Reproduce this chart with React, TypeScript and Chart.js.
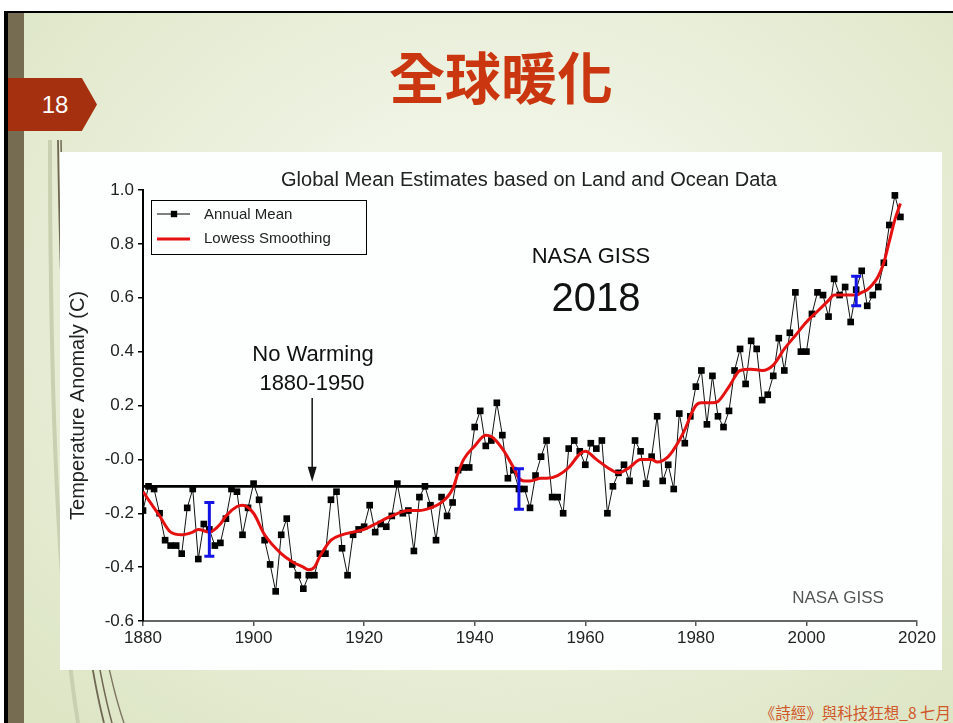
import React, { useEffect, useRef } from 'react';
import { Chart, registerables } from 'chart.js';

Chart.register(...registerables);

// ---------------- data ----------------
const firstYear = 1880;
const annualMean: number[] = [
  -0.19, -0.10, -0.11, -0.20, -0.30, -0.32, -0.32, -0.35, -0.18, -0.11, // 1880s
  -0.37, -0.24, -0.26, -0.32, -0.31, -0.22, -0.11, -0.12, -0.28, -0.18, // 1890s
  -0.09, -0.15, -0.30, -0.39, -0.49, -0.28, -0.22, -0.39, -0.43, -0.48, // 1900s
  -0.43, -0.43, -0.35, -0.35, -0.15, -0.12, -0.33, -0.43, -0.28, -0.26, // 1910s
  -0.25, -0.17, -0.27, -0.24, -0.25, -0.21, -0.09, -0.20, -0.19, -0.34, // 1920s
  -0.14, -0.10, -0.17, -0.30, -0.14, -0.21, -0.16, -0.04, -0.03, -0.03, // 1930s
  0.12, 0.18, 0.05, 0.07, 0.21, 0.09, -0.07, -0.04, -0.11, -0.11,       // 1940s
  -0.18, -0.06, 0.01, 0.07, -0.14, -0.14, -0.20, 0.04, 0.07, 0.03,      // 1950s
  -0.02, 0.06, 0.04, 0.07, -0.20, -0.10, -0.05, -0.02, -0.08, 0.07,     // 1960s
  0.03, -0.09, 0.01, 0.16, -0.08, -0.02, -0.11, 0.17, 0.06, 0.16,       // 1970s
  0.27, 0.33, 0.13, 0.31, 0.16, 0.12, 0.18, 0.33, 0.41, 0.28,           // 1980s
  0.44, 0.41, 0.22, 0.24, 0.31, 0.45, 0.33, 0.47, 0.62, 0.40,           // 1990s
  0.40, 0.54, 0.62, 0.61, 0.53, 0.67, 0.61, 0.64, 0.51, 0.63,           // 2000s
  0.70, 0.57, 0.61, 0.64, 0.73, 0.87, 0.98, 0.90,                       // 2010s
];

const lowessYears: number[] = [
  1880, 1882, 1883, 1885, 1887, 1889, 1890, 1892, 1894, 1895, 1897, 1898, 1900,
  1902, 1905, 1907, 1909, 1910, 1911, 1912, 1914, 1916, 1918, 1920, 1922, 1925,
  1928, 1930, 1932, 1934, 1936, 1937, 1938, 1940, 1942, 1943, 1945, 1947, 1948,
  1949, 1950, 1952, 1953, 1955, 1957, 1959, 1960, 1962, 1964, 1966, 1968, 1970,
  1972, 1973, 1975, 1977, 1978, 1979, 1980, 1981, 1983, 1984, 1986, 1988, 1990,
  1992, 1994, 1996, 1998, 2000, 2002, 2004, 2005, 2007, 2009, 2010, 2011, 2012,
  2013, 2014, 2015, 2016, 2017,
];
const lowessValues: number[] = [
  -0.12, -0.18, -0.21, -0.27, -0.28, -0.27, -0.26, -0.27, -0.24, -0.21, -0.175, -0.17, -0.20,
  -0.28, -0.35, -0.38, -0.40, -0.41, -0.40, -0.36, -0.30, -0.28, -0.27, -0.26, -0.24, -0.21,
  -0.19, -0.19, -0.18, -0.16, -0.11, -0.05, 0.00, 0.05, 0.09, 0.085, 0.04, -0.03, -0.07,
  -0.08, -0.08, -0.07, -0.07, -0.06, -0.03, 0.02, 0.03, 0.00, -0.03, -0.05, -0.03, 0.00,
  0.00, -0.01, 0.01, 0.07, 0.11, 0.16, 0.20, 0.21, 0.21, 0.215, 0.27, 0.33, 0.335,
  0.33, 0.35, 0.41, 0.46, 0.51, 0.55, 0.59, 0.61, 0.61, 0.61, 0.62, 0.63, 0.65,
  0.68, 0.73, 0.81, 0.89, 0.95,
];

const noWarmingYears: number[] = [1880, 1948];
const noWarmingValues: number[] = [-0.10, -0.10];

const errorBarYears: number[] = [1892, 1948, 2009];
const errorBarLow: number[] = [-0.36, -0.185, 0.57];
const errorBarHigh: number[] = [-0.16, -0.035, 0.68];

const xTicks: number[] = [1880, 1900, 1920, 1940, 1960, 1980, 2000, 2020];
const xTickLabels: string[] = ['1880', '1900', '1920', '1940', '1960', '1980', '2000', '2020'];
const yTicks: number[] = [-0.6, -0.4, -0.2, 0, 0.2, 0.4, 0.6, 0.8, 1.0];
const yTickLabels: string[] = ['-0.6', '-0.4', '-0.2', '-0.0', '0.2', '0.4', '0.6', '0.8', '1.0'];

const chartTitle = 'Global Mean Estimates based on Land and Ocean Data';
const yAxisTitle = 'Temperature Anomaly (C)';
const seriesLabels: string[] = ['Lowess Smoothing', 'Annual Mean', 'No Warming'];

// arrow annotation (data space)
const arrowYear = 1910.6;
const arrowFrom = 0.228;
const arrowTo = -0.083;

const FONT = '"Liberation Sans", Arial, sans-serif';

const decorPlugin = {
  id: 'decor',
  afterDatasetsDraw(chart: any) {
    const { ctx, scales } = chart;
    const x = scales.x;
    const y = scales.y;
    ctx.save();
    // arrow
    const ax = x.getPixelForValue(arrowYear);
    const ay1 = y.getPixelForValue(arrowFrom);
    const ay2 = y.getPixelForValue(arrowTo);
    ctx.strokeStyle = '#111';
    ctx.fillStyle = '#111';
    ctx.lineWidth = 1.5;
    ctx.beginPath();
    ctx.moveTo(ax, ay1);
    ctx.lineTo(ax, ay2 - 12);
    ctx.stroke();
    ctx.beginPath();
    ctx.moveTo(ax, ay2);
    ctx.lineTo(ax - 4.5, ay2 - 15);
    ctx.lineTo(ax + 4.5, ay2 - 15);
    ctx.closePath();
    ctx.fill();
    // error bars
    ctx.strokeStyle = '#1414e6';
    ctx.lineWidth = 3;
    errorBarYears.forEach((yr, i) => {
      const px = x.getPixelForValue(yr);
      const top = y.getPixelForValue(errorBarHigh[i]);
      const bot = y.getPixelForValue(errorBarLow[i]);
      ctx.beginPath();
      ctx.moveTo(px, top);
      ctx.lineTo(px, bot);
      ctx.moveTo(px - 5, top);
      ctx.lineTo(px + 5, top);
      ctx.moveTo(px - 5, bot);
      ctx.lineTo(px + 5, bot);
      ctx.stroke();
    });
    ctx.restore();
  },
  afterDraw(chart: any) {
    const { ctx } = chart;
    ctx.save();
    ctx.textAlign = 'center';
    ctx.textBaseline = 'middle';
    // chart title
    ctx.fillStyle = '#222';
    ctx.font = `20px ${FONT}`;
    ctx.fillText(chartTitle, 469, 28);
    // annotations
    ctx.fillStyle = '#111';
    ctx.font = `22px ${FONT}`;
    ctx.fillText('NASA GISS', 531, 105);
    ctx.font = `40px ${FONT}`;
    ctx.fillText('2018', 536, 148);
    ctx.font = `22px ${FONT}`;
    ctx.fillText('No Warming', 253, 203);
    ctx.fillText('1880-1950', 252, 232);
    ctx.fillStyle = '#555';
    ctx.font = `17px ${FONT}`;
    ctx.fillText('NASA GISS', 778, 446);

    // legend
    const ds = chart.data.datasets;
    ctx.strokeStyle = '#000';
    ctx.lineWidth = 1;
    ctx.strokeRect(91.5, 48.5, 215, 54);
    ctx.textAlign = 'left';
    ctx.fillStyle = '#222';
    ctx.font = `15px ${FONT}`;
    // annual mean
    ctx.beginPath();
    ctx.lineWidth = 1.2;
    ctx.moveTo(97, 62);
    ctx.lineTo(130, 62);
    ctx.stroke();
    ctx.fillStyle = '#000';
    ctx.fillRect(114 - 3.2, 62 - 3.2, 6.4, 6.4);
    ctx.fillStyle = '#222';
    ctx.fillText(ds[1].label, 144, 63);
    // lowess
    ctx.beginPath();
    ctx.strokeStyle = ds[0].borderColor;
    ctx.lineWidth = 3;
    ctx.moveTo(97, 87);
    ctx.lineTo(130, 87);
    ctx.stroke();
    ctx.fillText(ds[0].label, 144, 87);
    ctx.restore();
  },
};

function TempChart() {
  const ref = useRef<HTMLCanvasElement | null>(null);
  useEffect(() => {
    if (!ref.current) return;
    const annualData = annualMean.map((v, i) => ({ x: firstYear + i, y: v }));
    const lowessData = lowessYears.map((yr, i) => ({ x: yr, y: lowessValues[i] }));
    const noWarmData = noWarmingYears.map((yr, i) => ({ x: yr, y: noWarmingValues[i] }));
    const chart = new Chart(ref.current, {
      type: 'line',
      data: {
        datasets: [
          {
            label: seriesLabels[0],
            data: lowessData,
            borderColor: '#e51010',
            borderWidth: 3,
            pointRadius: 0,
            cubicInterpolationMode: 'monotone',
            fill: false,
          },
          {
            label: seriesLabels[1],
            data: annualData,
            borderColor: '#111',
            borderWidth: 1,
            pointStyle: 'rect',
            pointRadius: 4.7,
            pointBackgroundColor: '#000',
            pointBorderWidth: 0,
            tension: 0,
            fill: false,
          },
          {
            label: seriesLabels[2],
            data: noWarmData,
            borderColor: '#000',
            borderWidth: 2.8,
            pointRadius: 0,
            fill: false,
          },
        ],
      } as any,
      options: {
        responsive: false,
        animation: false,
        devicePixelRatio: 1,
        layout: { padding: { top: 38, right: 25, left: 0, bottom: 0 } },
        plugins: {
          legend: { display: false },
          tooltip: { enabled: false },
          title: { display: false },
        },
        scales: {
          x: {
            type: 'linear',
            min: 1880,
            max: 2020,
            afterBuildTicks: (s: any) => {
              s.ticks = xTicks.map((v) => ({ value: v }));
            },
            afterFit: (s: any) => {
              s.height = 49;
            },
            ticks: {
              autoSkip: false,
              maxRotation: 0,
              padding: 2,
              color: '#222',
              font: { size: 17, family: FONT },
              callback: (v: any) => xTickLabels[xTicks.indexOf(Number(v))] ?? '',
            },
            grid: {
              display: true,
              drawOnChartArea: false,
              drawTicks: true,
              tickLength: 5,
              color: '#555',
              lineWidth: 1.5,
            },
            border: { display: true, color: '#666', width: 2 },
          },
          y: {
            type: 'linear',
            min: -0.6,
            max: 1.0,
            afterBuildTicks: (s: any) => {
              s.ticks = yTicks.map((v) => ({ value: v }));
            },
            afterFit: (s: any) => {
              s.width = 83;
            },
            ticks: {
              padding: 4,
              color: '#222',
              font: { size: 17, family: FONT },
              callback: (v: any) => {
                const idx = yTicks.findIndex((t) => Math.abs(t - Number(v)) < 1e-6);
                return idx >= 0 ? yTickLabels[idx] : '';
              },
            },
            grid: {
              display: true,
              drawOnChartArea: false,
              drawTicks: true,
              tickLength: 5,
              color: '#000',
              lineWidth: 1.5,
            },
            border: { display: true, color: '#000', width: 2 },
            title: {
              display: true,
              text: yAxisTitle,
              color: '#222',
              font: { size: 20, family: FONT },
              padding: { top: 6, bottom: 0 },
            },
          },
        },
      } as any,
      plugins: [decorPlugin as any],
    });
    return () => chart.destroy();
  }, []);
  return (
    <canvas
      ref={ref}
      width={882}
      height={518}
      style={{ position: 'absolute', left: 60, top: 152, width: 882, height: 518, background: '#fdfefe' }}
    />
  );
}

export default function App() {
  return (
    <div
      style={{
        position: 'fixed',
        left: 0,
        top: 0,
        width: 953,
        height: 723,
        overflow: 'hidden',
        background: '#fff',
      }}
    >
      <div
        style={{
          position: 'absolute',
          left: 4,
          top: 11,
          right: 0,
          bottom: 0,
          borderTop: '2px solid #000',
          borderLeft: '4px solid #000',
          background:
            'radial-gradient(ellipse at 52% 42%, #f6f9f0 0%, #eef3e3 35%, #e4ebd1 70%, #dbe4c2 100%)',
        }}
      />
      <div
        style={{ position: 'absolute', left: 8, top: 13, width: 16, bottom: 0, background: '#766c52' }}
      />
      <svg
        width={953}
        height={723}
        style={{ position: 'absolute', left: 0, top: 0, pointerEvents: 'none' }}
      >
        <path d="M 50 140 C 50 400, 58 600, 78 723" stroke="#c9cfb1" strokeWidth={4} fill="none" />
        <path d="M 58 140 C 62 420, 78 620, 104 723" stroke="#6f6752" strokeWidth={1.8} fill="none" />
        <path d="M 61 140 C 66 420, 84 620, 112 723" stroke="#6f6752" strokeWidth={1.5} fill="none" />
        <path d="M 64 160 C 72 430, 92 630, 124 723" stroke="#7d7560" strokeWidth={1.4} fill="none" />
      </svg>
      <div
        style={{
          position: 'absolute',
          left: 8,
          top: 78,
          width: 89,
          height: 53,
          background: '#a5300f',
          clipPath: 'polygon(0 0, 83% 0, 100% 50%, 83% 100%, 0 100%)',
        }}
      />
      <div
        style={{
          position: 'absolute',
          left: 30,
          top: 90,
          width: 50,
          height: 30,
          lineHeight: '30px',
          textAlign: 'center',
          color: '#fff',
          fontFamily: FONT,
          fontSize: 24,
        }}
      >
        18
      </div>
      <div
        style={{
          position: 'absolute',
          left: 351,
          top: 47,
          width: 300,
          height: 56,
          lineHeight: '56px',
          textAlign: 'center',
          color: '#c9360f',
          fontFamily: '"Noto Sans CJK TC", "Noto Sans CJK SC", sans-serif',
          fontWeight: 'bold',
          fontSize: 56,
        }}
      >
        全球暖化
      </div>
      <TempChart />
      <div
        style={{
          position: 'absolute',
          right: 2,
          top: 702,
          height: 20,
          lineHeight: '20px',
          color: '#d0572a',
          fontFamily: '"Noto Sans CJK TC", "Noto Sans CJK SC", sans-serif',
          fontSize: 15.5,
          whiteSpace: 'nowrap',
        }}
      >
        《詩經》與科技狂想_8 七月
      </div>
    </div>
  );
}
